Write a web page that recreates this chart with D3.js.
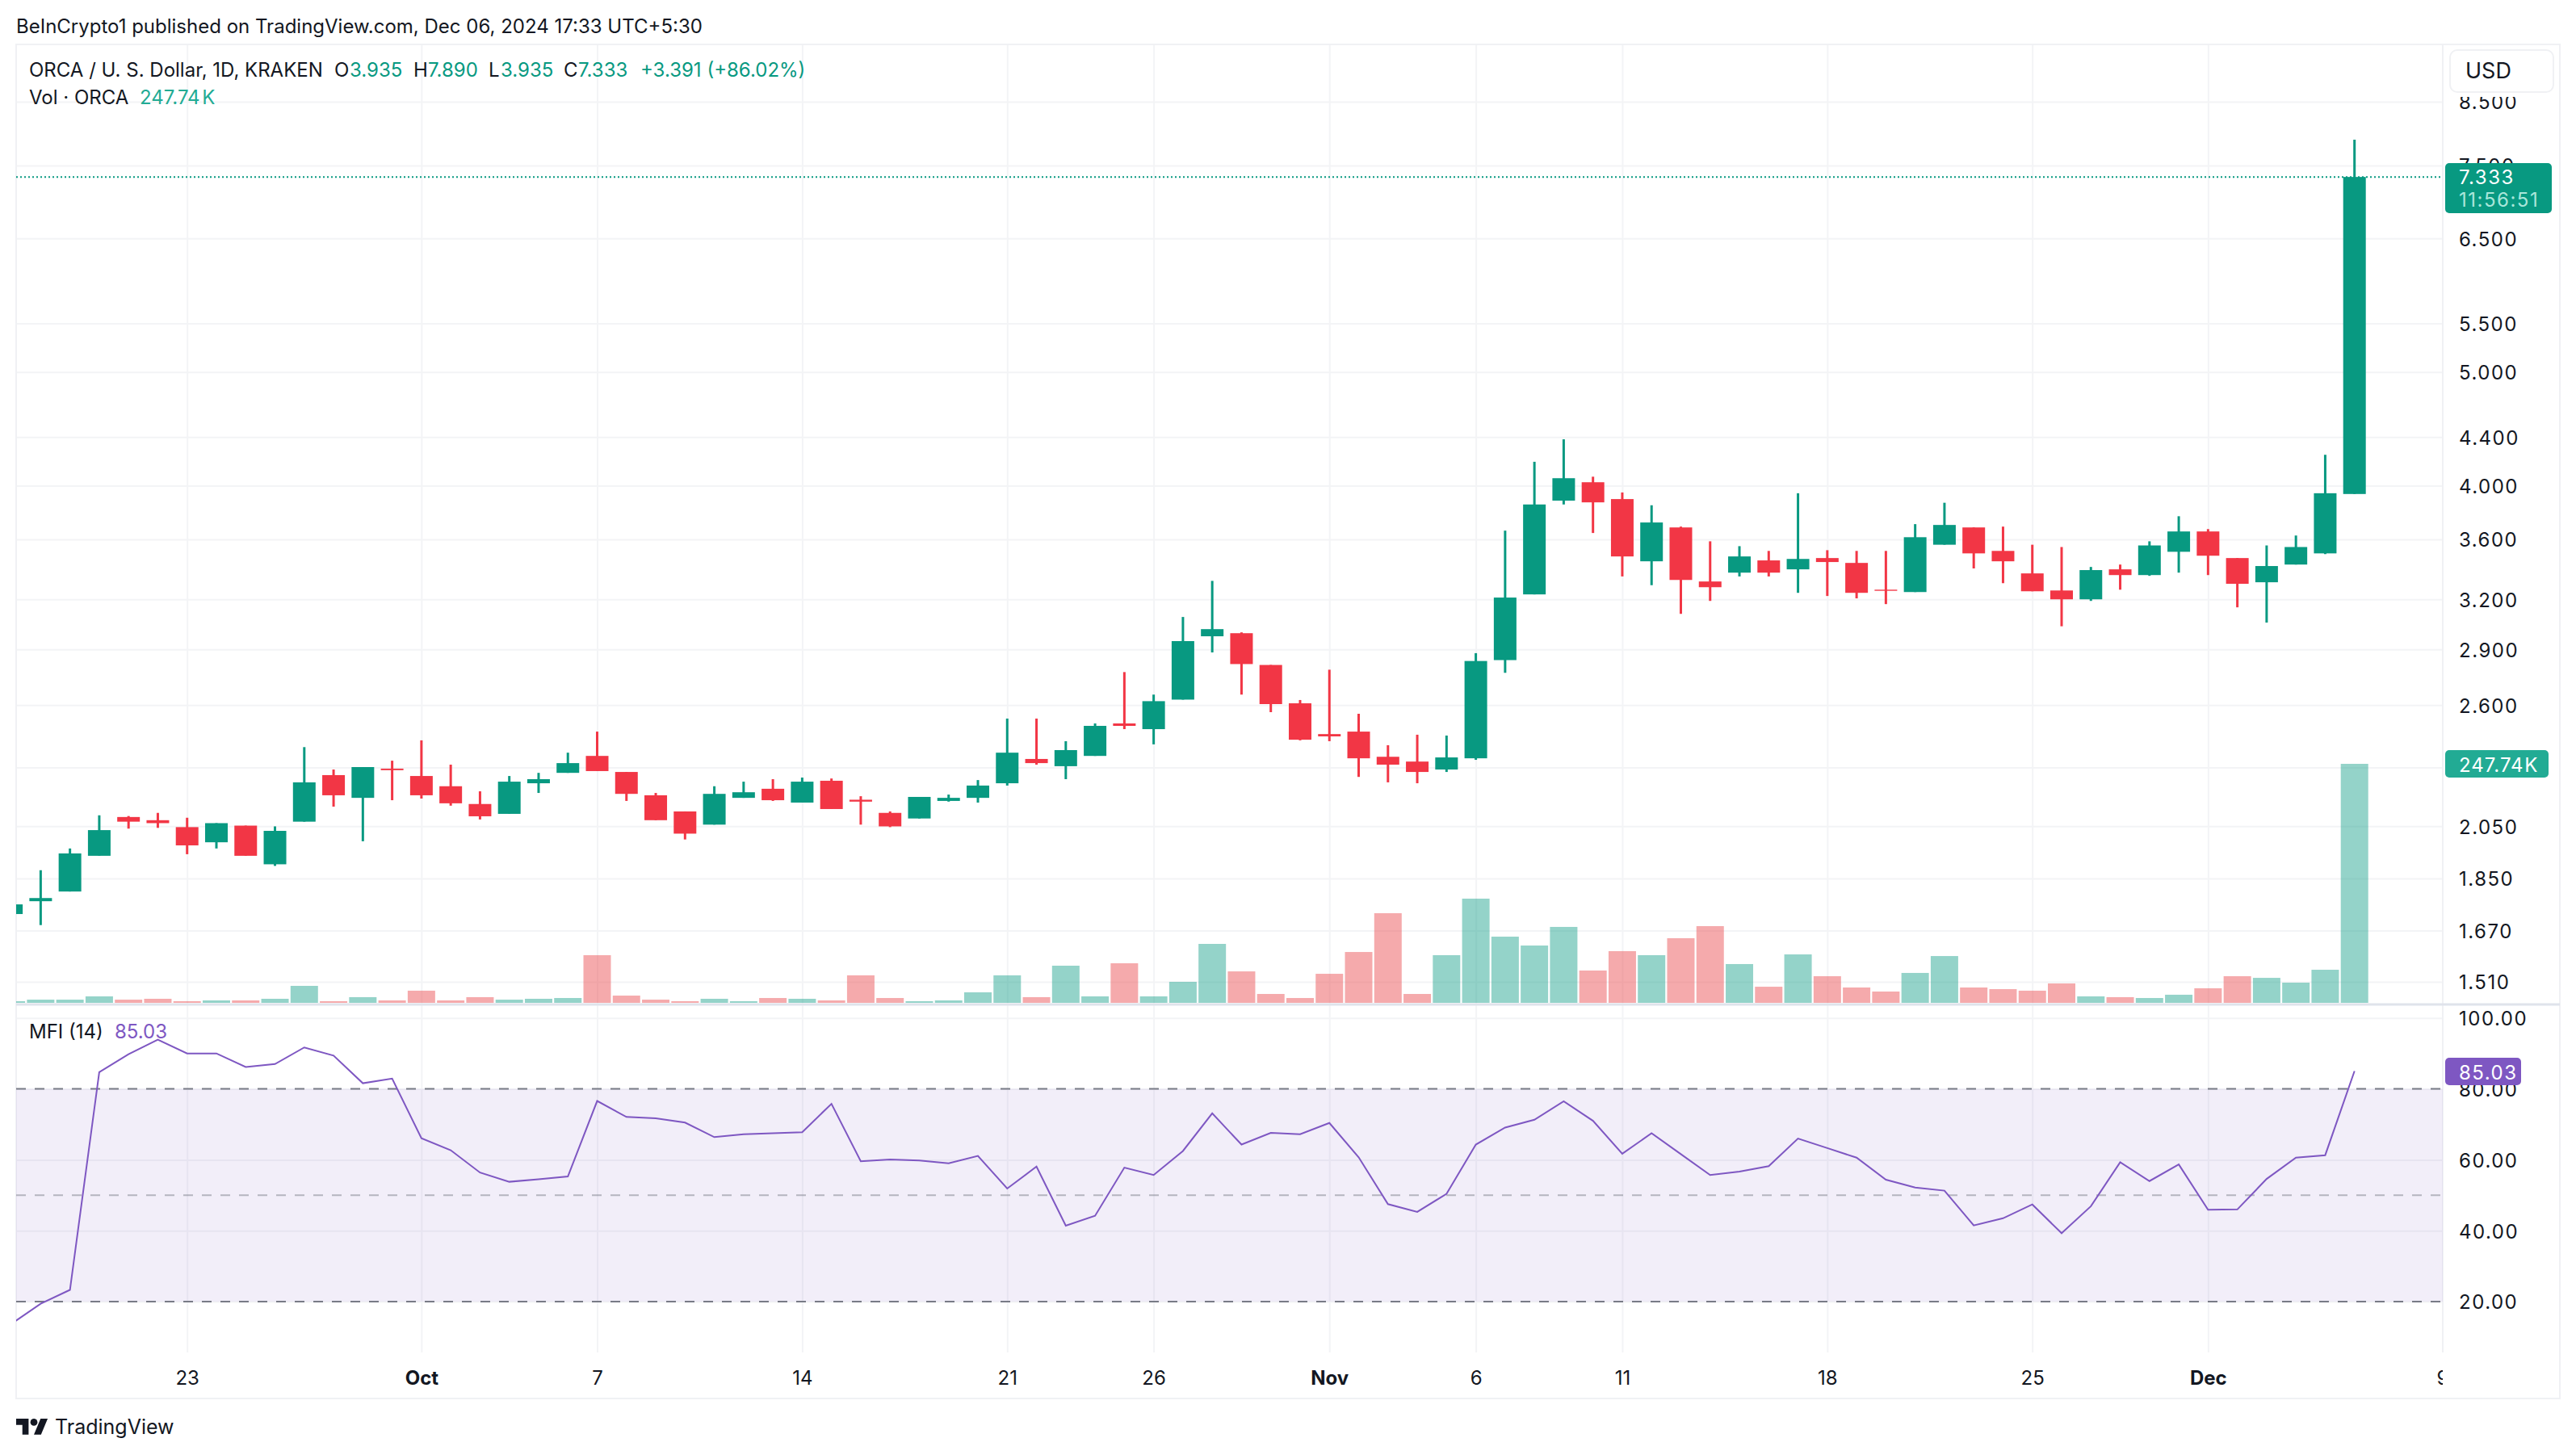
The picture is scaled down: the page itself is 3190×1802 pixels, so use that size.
<!DOCTYPE html>
<html lang="en">
  <head>
    <meta charset="utf-8" />
    <title>ORCA / U. S. Dollar, 1D, KRAKEN</title>
    <script src="https://cdn.jsdelivr.net/npm/d3@7"></script>
    <style>
      html,
      body {
        margin: 0;
        background: #fff;
      }
      svg {
        display: block;
      }
      text {
        font-family: Inter, 'Noto Sans', sans-serif;
        fill: #131722;
      }
      .axis text {
        font-size: 24px;
        font-family: Inter, 'Noto Sans', sans-serif;
        fill: #131722;
      }
      .value-axis text {
        letter-spacing: 1.5px;
      }
      .axis line {
        stroke: #f3f4f6;
        stroke-width: 2;
      }
      .axis .domain {
        display: none;
      }
    </style>
  </head>

  <body>
    <div id="chart"></div>

    <script type="text/javascript">
      // Daily candles, Sep 17 to Dec 6 2024
      const opens = [
        1.725, 1.769, 1.803, 1.934, 2.087, 2.074, 2.046, 1.986, 2.052, 1.902,
        2.068, 2.266, 2.167, 2.295, 2.262, 2.217, 2.141, 2.1, 2.23, 2.276,
        2.353, 2.28, 2.178, 2.11, 2.056, 2.167, 2.206, 2.147, 2.241, 2.159,
        2.104, 2.081, 2.154, 2.167, 2.23, 2.339, 2.306, 2.353, 2.508, 2.48,
        2.628, 2.976, 2.994, 2.813, 2.609, 2.456, 2.468, 2.349, 2.327, 2.291,
        2.342, 2.84, 3.231, 3.884, 4.027, 3.896, 3.448, 3.685, 3.314, 3.372,
        3.454, 3.394, 3.47, 3.437, 3.261, 3.246, 3.562, 3.685, 3.519, 3.367,
        3.256, 3.2, 3.394, 3.356, 3.513, 3.656, 3.47, 3.309, 3.426, 3.502, 3.935
      ]
      const highs = [
        1.758, 1.88, 1.962, 2.094, 2.091, 2.104, 2.084, 2.062, 2.052, 2.049,
        2.394, 2.291, 2.302, 2.331, 2.426, 2.313, 2.195, 2.262, 2.276, 2.368,
        2.468, 2.28, 2.188, 2.11, 2.217, 2.237, 2.248, 2.255, 2.251, 2.174,
        2.11, 2.171, 2.181, 2.244, 2.532, 2.532, 2.422, 2.508, 2.774, 2.654,
        3.091, 3.318, 2.999, 2.813, 2.626, 2.787, 2.556, 2.403, 2.453, 2.449,
        2.879, 3.662, 4.192, 4.381, 4.071, 3.947, 3.849, 3.691, 3.586, 3.552,
        3.519, 3.941, 3.524, 3.519, 3.519, 3.709, 3.868, 3.685, 3.691, 3.562,
        3.546, 3.41, 3.426, 3.586, 3.767, 3.673, 3.47, 3.557, 3.627, 4.25, 7.89
      ]
      const lows = [
        1.725, 1.688, 1.803, 1.934, 2.04, 2.043, 1.94, 1.962, 1.934, 1.896,
        2.068, 2.13, 1.99, 2.157, 2.164, 2.134, 2.077, 2.1, 2.188, 2.276,
        2.284, 2.154, 2.074, 1.997, 2.056, 2.167, 2.154, 2.147, 2.12, 2.056,
        2.046, 2.081, 2.151, 2.147, 2.22, 2.313, 2.248, 2.353, 2.48, 2.407,
        2.628, 2.883, 2.654, 2.564, 2.426, 2.422, 2.258, 2.234, 2.23, 2.28,
        2.335, 2.77, 3.231, 3.855, 3.645, 3.347, 3.29, 3.11, 3.19, 3.347,
        3.347, 3.241, 3.221, 3.206, 3.17, 3.246, 3.562, 3.4, 3.303, 3.251,
        3.035, 3.19, 3.261, 3.351, 3.372, 3.356, 3.15, 3.057, 3.426, 3.497, 3.935
      ]
      const closes = [
        1.758, 1.78, 1.943, 2.034, 2.068, 2.062, 1.974, 2.062, 1.934, 2.031,
        2.234, 2.178, 2.302, 2.288, 2.178, 2.144, 2.09, 2.237, 2.248, 2.32,
        2.284, 2.184, 2.074, 2.02, 2.184, 2.191, 2.157, 2.237, 2.12, 2.151,
        2.049, 2.171, 2.167, 2.22, 2.368, 2.32, 2.38, 2.496, 2.496, 2.62,
        2.948, 3.018, 2.818, 2.605, 2.429, 2.445, 2.342, 2.313, 2.28, 2.346,
        2.835, 3.211, 3.855, 4.059, 3.871, 3.481, 3.721, 3.324, 3.277, 3.481,
        3.372, 3.464, 3.443, 3.241, 3.254, 3.615, 3.703, 3.502, 3.448, 3.251,
        3.2, 3.389, 3.356, 3.557, 3.656, 3.486, 3.299, 3.416, 3.546, 3.941, 7.333
      ]
      // Volume in thousands
      const volumes = [
        1.7, 3.3, 3.3, 6.7, 3.3, 4.2, 1.7, 2.5, 2.5, 4.2, 17.6, 1.7, 5.9, 2.5, 12.6, 2.5, 5.9, 3.3, 4.2, 5.0, 49.4, 7.5,
        3.3, 1.7, 4.2, 1.7, 5.0, 4.2, 2.5, 28.5, 5.0, 1.7, 2.5, 10.9, 28.5, 5.9, 38.5, 6.7, 41.0, 6.7, 21.8, 61.1, 32.6, 9.2,
        5.0, 30.1, 52.7, 92.9, 9.2, 49.4, 108, 68.6, 59.4, 78.7, 33.5, 53.6, 49.4, 67, 79.5, 40.2, 16.7, 50.2, 27.6, 15.9, 11.7, 31, 48.5,
        15.9, 14.2, 12.6, 20.1, 6.7, 5.9, 5, 8.4, 15.1, 27.6, 25.9, 20.9, 34.3, 247.74
      ]
      const mfiValues = [
        13.7, 19.4, 23.3, 84.7, 89.8, 93.9, 90.0, 90.0, 86.2, 87.0,
        91.7, 89.4, 81.6, 82.9, 66.1, 62.7, 56.4, 53.8, 54.5, 55.3,
        76.6, 72.1, 71.7, 70.5, 66.4, 67.2, 67.5, 67.8, 75.8, 59.6,
        60.1, 59.8, 59.0, 61.1, 51.9, 58.1, 41.4, 44.2, 57.8, 55.7,
        62.5, 73.1, 64.3, 67.6, 67.2, 70.4, 60.7, 47.5, 45.3, 50.4,
        64.3, 69.1, 71.3, 76.5, 71.0, 61.7, 67.5, 61.6, 55.7, 56.7,
        58.2, 66.0, 63.3, 60.6, 54.4, 52.2, 51.3, 41.5, 43.5, 47.4,
        39.3, 46.9, 59.3, 54.0, 58.7, 45.9, 46.0, 54.6, 60.6, 61.3, 85.03
      ]

      const priceTicks = [8.5, 7.5, 6.5, 5.5, 5, 4.4, 4, 3.6, 3.2, 2.9, 2.6, 2.3, 2.05, 1.85, 1.67, 1.51]
      const mfiTicks = [100, 80, 60, 40, 20]
      const timeLabels = ['23', 'Oct', '7', '14', '21', '26', 'Nov', '6', '11', '18', '25', 'Dec', '9']
      const timeIndex = [6, 14, 20, 27, 34, 39, 45, 50, 55, 62, 69, 75, 83]
      const monthLabels = ['Oct', 'Nov', 'Dec']

      const green = '#089981'
      const red = '#f23645'
      const purple = '#7e57c2'
      const volGreen = '#089981'
      const volRed = '#e94a4f'

      const width = 3190,
        height = 1802,
        left = 20,
        axisX = 3025,
        panelTop = 55,
        panelRight = 3170,
        timeY = 1675,
        panelBottom = 1732

      const x = d3.scaleLinear().domain([0, 80]).range([14.1, 2915.7])
      const y = d3.scaleLog().domain([8.5, 1.51]).range([126, 1216])
      const yVol = d3.scaleLinear().domain([0, 247.74]).range([1242, 946])
      const yMfi = d3.scaleLinear().domain([100, 20]).range([1260.8, 1612])

      const svg = d3.select('#chart').append('svg').attr('width', width).attr('height', height)
      svg.append('rect').attr('width', width).attr('height', height).attr('fill', '#fff')

      const defs = svg.append('defs')
      defs.append('clipPath').attr('id', 'plot').append('rect').attr('x', left).attr('y', panelTop).attr('width', axisX - left).attr('height', timeY - panelTop)
      defs.append('clipPath').attr('id', 'time').append('rect').attr('x', left).attr('y', panelTop).attr('width', axisX - left).attr('height', panelBottom - panelTop)

      // Time axis, its long ticks are the vertical grid
      const timeAxis = svg
        .append('g')
        .attr('class', 'axis')
        .attr('clip-path', 'url(#time)')
        .append('g')
        .attr('transform', 'translate(0,' + timeY + ')')
        .call(
          d3
            .axisBottom(x)
            .tickValues(timeIndex)
            .tickFormat((d, i) => timeLabels[i])
            .tickSizeInner(-(timeY - panelTop))
            .tickSizeOuter(0)
            .tickPadding(23)
        )
      timeAxis
        .selectAll('text')
        .attr('dy', '0.71em')
        .style('font-weight', (d, i) => (monthLabels.includes(timeLabels[i]) ? 700 : 400))

      // Price axis, long ticks are the horizontal grid. The 2.300 line has its
      // label hidden behind the volume tag
      svg
        .append('g')
        .attr('class', 'axis value-axis')
        .attr('transform', 'translate(' + axisX + ',0)')
        .call(
          d3
            .axisRight(y)
            .tickValues(priceTicks)
            .tickFormat((d) => (d === 2.3 ? '' : d3.format('.3f')(d)))
            .tickSizeInner(-(axisX - left))
            .tickSizeOuter(0)
            .tickPadding(20)
        )
        .selectAll('text')
        .attr('dy', '0.37em')

      // MFI axis
      svg
        .append('g')
        .attr('class', 'axis value-axis')
        .attr('transform', 'translate(' + axisX + ',0)')
        .call(
          d3
            .axisRight(yMfi)
            .tickValues(mfiTicks)
            .tickFormat(d3.format('.2f'))
            .tickSizeInner(-(axisX - left))
            .tickSizeOuter(0)
            .tickPadding(20)
        )
        .selectAll('text')
        .attr('dy', '0.37em')

      // Panel borders
      const border = svg.append('g').attr('fill', 'none').attr('stroke', '#f0f1f4').attr('stroke-width', 2)
      border.append('rect').attr('x', left).attr('y', panelTop).attr('width', panelRight - left).attr('height', panelBottom - panelTop)
      border.append('line').attr('x1', axisX).attr('x2', axisX).attr('y1', panelTop).attr('y2', timeY)
      svg.append('line').attr('x1', left).attr('x2', panelRight).attr('y1', 1244).attr('y2', 1244).attr('stroke', '#e0e3eb').attr('stroke-width', 3)

      const chart = svg.append('g').attr('clip-path', 'url(#plot)')

      // MFI band and its dashed levels
      chart
        .append('rect')
        .attr('x', left)
        .attr('width', axisX - left)
        .attr('y', yMfi(80))
        .attr('height', yMfi(20) - yMfi(80))
        .attr('fill', purple)
        .attr('fill-opacity', 0.1)
      chart
        .selectAll('.level')
        .data([80, 50, 20])
        .enter()
        .append('line')
        .attr('class', 'level')
        .attr('x1', left)
        .attr('x2', axisX)
        .attr('y1', (d) => yMfi(d))
        .attr('y2', (d) => yMfi(d))
        .attr('stroke', '#787b86')
        .attr('stroke-width', 2)
        .attr('stroke-dasharray', '12 11')
        .attr('stroke-opacity', (d) => (d === 50 ? 0.5 : 1))

      // Volume bars
      chart
        .selectAll('.vol')
        .data(volumes)
        .enter()
        .append('rect')
        .attr('class', 'vol')
        .attr('x', (d, i) => x(i) - 17)
        .attr('width', 34)
        .attr('y', (d) => yVol(d))
        .attr('height', (d) => yVol(0) - yVol(d))
        .attr('fill', (d, i) => (closes[i] >= opens[i] ? volGreen : volRed))
        .attr('fill-opacity', (d, i) => (closes[i] >= opens[i] ? 0.43 : 0.47))

      // Candles
      const candles = chart.selectAll('.candle').data(opens).enter().append('g').attr('class', 'candle')
      candles
        .append('line')
        .attr('x1', (d, i) => x(i))
        .attr('x2', (d, i) => x(i))
        .attr('y1', (d, i) => y(highs[i]))
        .attr('y2', (d, i) => y(lows[i]))
        .attr('stroke-width', 3)
        .attr('stroke', (d, i) => (closes[i] >= opens[i] ? green : red))
      candles
        .append('rect')
        .attr('x', (d, i) => x(i) - 14)
        .attr('width', 28)
        .attr('y', (d, i) => y(Math.max(opens[i], closes[i])))
        .attr('height', (d, i) => Math.abs(y(opens[i]) - y(closes[i])))
        .attr('fill', (d, i) => (closes[i] >= opens[i] ? green : red))

      // Last price line
      chart
        .append('line')
        .attr('x1', left)
        .attr('x2', axisX)
        .attr('y1', y(closes[80]))
        .attr('y2', y(closes[80]))
        .attr('stroke', green)
        .attr('stroke-width', 2)
        .attr('stroke-dasharray', '2 3')

      // MFI line
      chart
        .append('path')
        .datum(mfiValues)
        .attr('fill', 'none')
        .attr('stroke', purple)
        .attr('stroke-width', 2)
        .attr(
          'd',
          d3
            .line()
            .x((d, i) => x(i))
            .y((d) => yMfi(d))
        )

      // Text helper for the header rows
      function label(txt, tx, ty, color, size) {
        return svg
          .append('text')
          .attr('x', tx)
          .attr('y', ty)
          .attr('dominant-baseline', 'central')
          .style('fill', color || '#131722')
          .style('font-size', (size || 24) + 'px')
          .text(txt)
      }

      label('BeInCrypto1 published on TradingView.com, Dec 06, 2024 17:33 UTC+5:30', 20, 32)

      label('ORCA / U. S. Dollar, 1D, KRAKEN', 36, 86)
      label('O', 414, 86)
      label('3.935', 433, 86, green)
      label('H', 512, 86)
      label('7.890', 530, 86, green)
      label('L', 605, 86)
      label('3.935', 620, 86, green)
      label('C', 698, 86)
      label('7.333', 716, 86, green)
      label('+3.391 (+86.02%)', 793, 86, green)
      label('Vol · ORCA', 36, 120)
      label('247.74 K', 173, 120, '#22ab94').style('word-spacing', '-4px')
      label('MFI (14)', 36, 1277)
      label('85.03', 142, 1277, purple)

      // Price tags on the right axis
      function tag(tx, ty, w, h, color) {
        svg.append('rect').attr('x', tx).attr('y', ty).attr('width', w).attr('height', h).attr('rx', 5).attr('fill', color)
      }
      tag(3028, 202, 132, 62, green)
      label('7.333', 3045, 219.5, '#ffffff').style('letter-spacing', '1.5px')
      label('11:56:51', 3045, 247.5, '#a8e6da').style('letter-spacing', '1.5px')
      tag(3028, 929, 128, 34, '#22ab94')
      label('247.74 K', 3045, 947, '#ffffff').style('letter-spacing', '1px').style('word-spacing', '-7px')
      tag(3028, 1310, 94, 34, purple)
      label('85.03', 3045, 1328, '#ffffff').style('letter-spacing', '1.5px')

      // Currency button with a white backing that cuts into the top axis label
      svg.append('rect').attr('x', 3027).attr('y', 57).attr('width', 141).attr('height', 63).attr('fill', '#fff')
      svg.append('rect').attr('x', 3034).attr('y', 62).attr('width', 128).attr('height', 52).attr('rx', 9).attr('fill', '#fff').attr('stroke', '#f0f1f4').attr('stroke-width', 2)
      label('USD', 3053, 87, '#131722', 27)

      // TradingView logo
      const logo = svg.append('g').attr('transform', 'translate(20,1752.6) scale(1.1)').attr('fill', '#131722')
      logo.append('path').attr('d', 'M14 22H7V11H0V4h14v18zM28 22h-8l7.5-18h8L28 22z')
      logo.append('circle').attr('cx', 20).attr('cy', 8).attr('r', 4)
      label('TradingView', 68, 1767, '#131722', 25)
    </script>
  </body>
</html>
